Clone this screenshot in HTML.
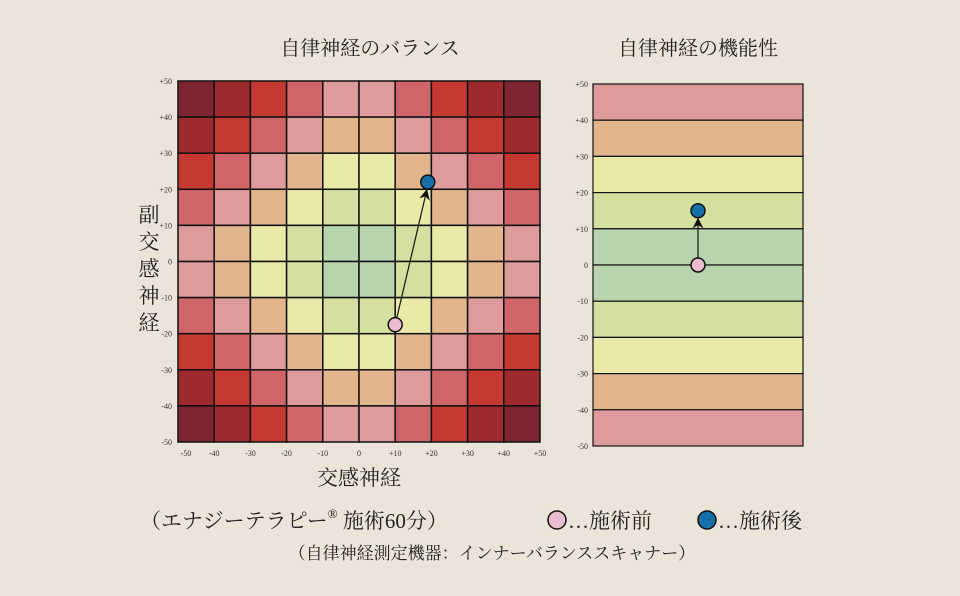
<!DOCTYPE html>
<html><head><meta charset="utf-8"><style>
body{margin:0;background:#ebe4d9;}
svg{display:block;font-family:"Liberation Serif","Noto Serif CJK SC",serif;}
</style></head><body>
<svg id="c" width="960" height="596" viewBox="0 0 960 596">
<rect width="960" height="596" fill="#ebe4d9"/>
<text x="370" y="55" font-size="20" text-anchor="middle" fill="#222">自律神経のバランス</text>
<text x="698" y="55" font-size="20" text-anchor="middle" fill="#222">自律神経の機能性</text>
<g id="grid"></g>
<g id="bands"></g>
<text font-size="21" fill="#222" text-anchor="middle">
<tspan x="149" y="222">副</tspan><tspan x="149" y="249">交</tspan><tspan x="149" y="276">感</tspan><tspan x="149" y="303">神</tspan><tspan x="149" y="330">経</tspan></text>
<text x="359" y="485" font-size="21" text-anchor="middle" fill="#222">交感神経</text>
<text x="140" y="528" font-size="21" fill="#222">（エナジーテラピー<tspan font-size="13" dy="-10">®</tspan><tspan dy="10"> 施術60分）</tspan></text>
<circle cx="557" cy="520" r="9" fill="#ebbcd0" stroke="#111" stroke-width="1.5"/>
<text x="568" y="528" font-size="21" fill="#222">…施術前</text>
<circle cx="707" cy="520" r="9" fill="#1670a8" stroke="#111" stroke-width="1.5"/>
<text x="718" y="528" font-size="21" fill="#222">…施術後</text>
<text x="492" y="559" font-size="17" text-anchor="middle" fill="#222">（自律神経測定機器：インナーバランススキャナー）</text>
<defs><marker id="ah" viewBox="0 0 10 10" refX="9" refY="5" markerWidth="9" markerHeight="9" orient="auto"><path d="M0,0 L10,5 L0,10 L3,5 z" fill="#111"/></marker></defs>
</svg>
<script>
const levelColors=["#b9d5b0","#d5e0a0","#eaeaa8","#e3b58c","#de9b9b","#cf6569","#c63832","#9e2a2e","#7d2530"];
const ticks=[-50,-40,-30,-20,-10,0,10,20,30,40,50];
const before=[10,-17.5];
const after=[19,22];
const funcBefore=[0];
const funcAfter=[15];
const bandLevels=[4,3,2,1,0,0,1,2,3,4];
const NS="http://www.w3.org/2000/svg";
function mk(t,a,p){const e=document.createElementNS(NS,t);for(const k in a)e.setAttribute(k,a[k]);p.appendChild(e);return e;}
const X0=178,X1=540,Y0=81,Y1=442;
const sx=v=>X0+(v+50)/100*(X1-X0), sy=v=>Y1-(v+50)/100*(Y1-Y0);
const g=document.getElementById('grid');
for(let r=0;r<10;r++)for(let c=0;c<10;c++){
 const a=Math.abs(c-4.5)-0.5,b=Math.abs(r-4.5)-0.5;
 const rc=mk('rect',{x:sx(-50+c*10),y:sy(50-r*10),width:sx(-40)-sx(-50),height:sy(40)-sy(50),fill:levelColors[a+b],stroke:'#111','stroke-width':1.5},g);
 
 
}
ticks.forEach(t=>{
 const lx=mk('text',{x:sx(t)+(t==-50?8:0),y:456,'font-size':8,'text-anchor':'middle',fill:'#333'},g);lx.textContent=t>0?'+'+t:t;
 
 
 const ly=mk('text',{x:172,y:sy(t)+3,'font-size':8,'text-anchor':'end',fill:'#333'},g);ly.textContent=t>0?'+'+t:t;
 
 
});
const ar=mk('line',{x1:sx(before[0]),y1:sy(before[1]),x2:sx(after[0])-1,y2:sy(after[1])+8,stroke:'#111','stroke-width':1.2,'marker-end':'url(#ah)'},g);


const p1=mk('circle',{cx:sx(before[0]),cy:sy(before[1]),r:7,fill:'#ebbcd0',stroke:'#111','stroke-width':1.5},g);


const p2=mk('circle',{cx:sx(after[0]),cy:sy(after[1]),r:7,fill:'#1670a8',stroke:'#111','stroke-width':1.5},g);


// right chart
const bx0=593,bx1=803,by0=84,by1=446;
const fy=v=>by1-(v+50)/100*(by1-by0);
const bg=document.getElementById('bands');
bandLevels.forEach((l,i)=>{
 const r=mk('rect',{x:bx0,y:fy(50-i*10),width:bx1-bx0,height:fy(40)-fy(50),fill:levelColors[l],stroke:'#111','stroke-width':1.2},bg);
 
 
});
ticks.forEach(t=>{
 const ly=mk('text',{x:588,y:fy(t)+3,'font-size':8,'text-anchor':'end',fill:'#333'},bg);ly.textContent=t>0?'+'+t:t;
 
 
});
const cx=(bx0+bx1)/2;
const a2=mk('line',{x1:cx,y1:fy(funcBefore[0]),x2:cx,y2:fy(funcAfter[0])+8,stroke:'#111','stroke-width':1.2,'marker-end':'url(#ah)'},bg);


const q1=mk('circle',{cx:cx,cy:fy(funcBefore[0]),r:7,fill:'#ebbcd0',stroke:'#111','stroke-width':1.5},bg);


const q2=mk('circle',{cx:cx,cy:fy(funcAfter[0]),r:7,fill:'#1670a8',stroke:'#111','stroke-width':1.5},bg);


</script>
</body></html>
